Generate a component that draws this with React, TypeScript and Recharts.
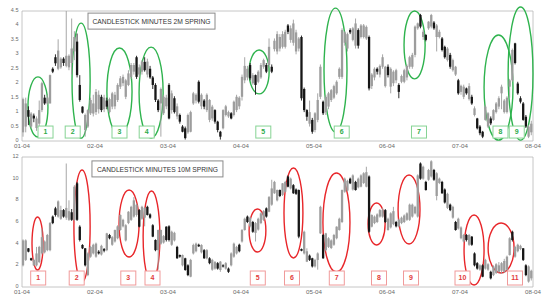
import React from 'react';
import { ComposedChart, Bar, XAxis, YAxis, ReferenceArea, ReferenceDot } from 'recharts';

type C = [number, number, number, number]; // open, high, low, close

const monthLabels = ['01-04', '02-04', '03-04', '04-04', '05-04', '06-04', '07-04', '08-04'];
const PER_MONTH = 27;
const monthTicks = monthLabels.map((_, k) => k * PER_MONTH);
const yTicks2M = [0, 0.5, 1, 1.5, 2, 2.5, 3, 3.5, 4, 4.5];
const yTicks10M = [0, 2, 4, 6, 8, 10, 12];

// ---- 2M series ----
const jan2M: C[] = [[0.3,1.5,0.15,1.45],[0.5,1.5,0.3,1.3],[1.07,1.2,0.55,0.84],[0.5,1.0,0.45,0.95],[0.88,0.95,0.65,0.78],[0.45,0.85,0.35,0.78],[0.6,1.4,0.5,1.07],[1.07,2.05,1.0,2.0],[1.5,1.6,1.25,1.3],[1.3,1.6,1.25,1.5],[1.3,2.3,1.3,2.28],[2.5,2.55,2.35,2.4],[2.9,3.0,2.6,2.69],[2.5,3.52,2.45,3.13],[2.55,2.9,2.5,2.85],[2.85,2.9,2.6,2.7],[2.6,4.5,2.55,2.95],[2.55,3.0,2.45,2.95],[2.7,4.24,2.3,3.2],[3.1,3.8,2.8,3.6],[3.44,3.72,2.2,2.28],[1.94,2.28,1.36,1.42],[1.19,1.2,0.95,0.98],[0.38,0.95,0.15,0.9],[0.5,1.1,0.45,1.07],[0.96,1.5,0.9,1.42],[0.95,1.6,0.85,1.3]];
const feb2M: C[] = [[1.0,1.8,0.9,1.7],[1.1,1.75,0.95,1.6],[1.53,1.6,1.0,1.07],[1.1,1.6,1.0,1.5],[1.4,1.5,1.1,1.19],[1.0,1.5,0.95,1.45],[1.19,1.7,1.1,1.65],[1.2,1.7,1.1,1.6],[1.42,2.0,1.35,1.94],[1.88,2.25,1.8,2.17],[2.0,2.3,1.9,2.22],[1.53,2.15,1.45,2.1],[1.94,2.45,1.9,2.34],[2.22,2.7,2.15,2.63],[2.4,2.7,2.3,2.63],[2.9,2.95,2.15,2.22],[2.3,2.65,2.2,2.55],[2.4,2.8,2.3,2.75],[2.74,2.9,2.4,2.45],[2.3,2.85,2.2,2.75],[2.5,2.6,2.15,2.2],[2.2,2.25,1.8,1.94],[1.94,2.0,1.35,1.42],[1.4,1.45,1.0,1.07],[1.3,1.85,0.15,1.8],[0.96,1.6,0.9,1.53],[1.2,1.6,1.1,1.5]];
const mar2M: C[] = [[1.94,2.0,0.75,0.78],[1.07,1.75,0.95,1.65],[1.48,1.55,0.95,1.0],[0.85,1.3,0.75,1.2],[0.9,0.95,0.6,0.67],[0.5,0.55,0.3,0.32],[0.44,0.5,0.05,0.1],[0.3,0.95,0.25,0.9],[0.32,1.05,0.3,1.0],[1.3,1.7,1.25,1.65],[1.4,1.65,1.3,1.6],[2.05,2.1,1.3,1.36],[1.2,1.65,1.1,1.6],[1.4,1.45,1.1,1.19],[1.07,1.65,1.0,1.6],[0.73,1.45,0.65,1.42],[0.78,1.25,0.7,1.19],[1.07,1.1,0.6,0.67],[0.67,0.7,0.3,0.38],[0.32,0.35,0.05,0.15],[0.44,1.1,0.4,1.07],[0.9,1.25,0.85,1.2],[0.85,1.05,0.8,1.0],[0.96,1.0,0.75,0.78],[0.9,1.4,0.85,1.36],[1.07,1.6,1.0,1.53],[1.2,1.55,1.1,1.5]];
const apr2M: C[] = [[1.53,2.3,1.4,2.22],[2.1,2.9,2.0,2.6],[2.2,2.6,2.1,2.5],[2.63,2.7,2.1,2.17],[2.0,2.35,1.95,2.28],[2.28,2.3,1.6,1.94],[2.05,2.45,2.0,2.4],[2.2,2.7,2.15,2.63],[2.57,2.85,2.5,2.8],[2.63,2.7,2.35,2.4],[2.63,3.55,2.55,3.26],[2.57,2.65,2.35,2.4],[3.18,3.55,3.1,3.47],[3.1,3.8,3.0,3.7],[3.2,3.7,3.1,3.6],[3.26,3.8,3.2,3.7],[3.26,3.85,3.2,3.78],[4.0,4.05,3.7,3.78],[3.5,4.0,3.4,3.9],[3.4,4.2,3.3,4.07],[3.1,3.85,3.0,3.76],[3.2,3.6,3.1,3.55],[3.6,3.65,1.4,1.48],[1.8,1.85,1.0,1.07],[1.07,1.1,0.7,0.84],[0.6,1.4,0.5,1.0],[0.73,0.8,0.25,0.32]];
const may2M: C[] = [[0.38,1.0,0.3,0.96],[0.73,1.65,0.65,1.42],[1.53,2.65,1.45,2.57],[1.36,1.4,0.9,0.96],[1.0,1.6,0.9,1.53],[1.19,1.7,1.1,1.65],[1.42,1.8,1.35,1.76],[1.5,1.95,1.45,1.9],[1.65,2.1,1.6,2.05],[2.22,2.55,2.15,2.5],[2.22,3.9,2.15,3.84],[3.4,3.8,3.3,3.76],[3.2,3.75,3.1,3.7],[3.84,3.9,3.7,3.76],[3.5,3.95,3.45,3.9],[3.3,4.24,3.2,4.07],[3.84,3.9,3.2,3.3],[3.6,4.05,3.55,4.0],[3.6,4.05,3.55,4.0],[3.55,4.0,3.5,3.95],[3.6,3.65,1.75,1.82],[1.9,2.35,1.8,2.3],[2.2,2.55,2.1,2.5],[2.5,2.55,2.3,2.4],[2.3,2.65,2.2,2.6],[2.57,3.0,2.5,2.9],[1.9,2.6,1.85,2.57]];
const jun2M: C[] = [[2.57,2.65,2.2,2.28],[1.88,2.55,1.65,2.5],[2.0,2.45,1.9,2.4],[2.1,2.5,2.0,2.45],[1.94,2.0,1.48,1.7],[2.05,2.3,2.0,2.25],[2.05,2.5,2.0,2.45],[2.2,2.65,2.1,2.6],[2.57,2.95,2.5,2.9],[2.57,3.05,2.5,2.98],[2.98,4.0,2.9,3.96],[3.9,4.1,3.85,4.07],[4.36,4.4,3.9,3.96],[3.6,3.85,3.5,3.78],[3.67,3.7,3.45,3.5],[3.9,4.15,3.85,4.13],[3.96,4.4,3.9,4.36],[4.1,4.15,3.85,3.9],[3.6,4.05,3.1,4.0],[3.6,3.85,3.55,3.78],[3.55,3.6,3.1,3.15],[3.26,3.3,2.85,2.9],[2.8,3.25,2.75,3.2],[2.98,3.05,2.5,2.57],[2.45,2.85,2.4,2.8],[2.3,2.6,2.25,2.57],[2.1,2.15,1.6,1.65]];
const jul2M: C[] = [[1.7,1.95,1.6,1.91],[1.53,1.95,1.45,1.88],[1.82,1.85,1.6,1.65],[1.45,2.0,1.4,1.9],[1.53,1.6,1.25,1.3],[0.9,1.2,0.85,1.13],[0.78,0.8,0.4,0.44],[0.5,0.55,0.2,0.27],[0.32,0.35,0.1,0.15],[0.73,1.25,0.7,1.19],[0.5,1.0,0.45,0.96],[0.78,0.85,0.55,0.61],[0.73,1.1,0.7,1.07],[1.0,1.35,0.95,1.3],[1.19,1.55,1.1,1.48],[1.65,1.95,1.1,1.88],[1.0,1.45,0.95,1.4],[1.0,1.55,0.95,1.5],[1.88,2.15,1.5,2.1],[2.1,3.2,2.05,3.15],[3.38,3.4,2.65,2.7],[1.99,2.05,1.6,1.65],[1.48,1.55,1.3,1.36],[1.3,1.35,0.7,0.73],[0.84,0.9,0.45,0.5],[0.15,0.55,0.1,0.5],[0.3,0.7,0.2,0.6]];

// ---- 10M series ----
const jan10M: C[] = [[2.0,4.4,1.9,4.3],[2.5,4.4,2.4,4.3],[3.57,3.6,3.2,3.26],[2.65,2.7,2.4,2.5],[2.0,2.6,1.95,2.5],[2.0,3.7,1.9,3.1],[2.3,3.8,2.2,3.7],[3.1,5.4,3.0,4.6],[3.2,4.3,3.1,4.2],[3.4,4.9,3.3,4.8],[3.4,6.0,3.3,5.9],[6.5,6.6,5.8,5.9],[7.26,7.4,6.5,6.65],[6.5,8.0,6.4,7.9],[6.3,7.5,6.2,7.1],[7.1,7.2,6.4,6.5],[6.4,11.4,6.2,7.3],[6.2,8.0,6.1,7.0],[6.9,7.2,6.1,6.2],[6.2,9.4,6.1,9.26],[9.57,9.7,6.1,6.2],[5.57,5.7,4.2,4.34],[3.88,3.95,3.5,3.57],[3.57,3.6,1.9,2.0],[1.1,3.2,1.0,3.1],[2.8,3.8,2.7,3.7],[3.1,4.0,3.0,3.9]];
const feb10M: C[] = [[2.8,4.1,2.7,4.0],[3.26,3.4,3.0,3.1],[3.0,3.9,2.9,3.8],[3.5,3.6,3.2,3.35],[3.4,5.0,3.3,4.95],[4.8,4.9,4.4,4.5],[3.9,4.7,3.8,4.6],[4.2,5.3,4.1,5.26],[4.5,5.7,4.4,5.6],[5.26,6.7,5.2,6.65],[5.6,6.3,5.5,6.2],[4.3,5.8,4.2,5.7],[5.9,7.0,5.8,6.95],[6.2,7.5,6.1,7.4],[6.5,8.3,6.4,8.0],[6.65,7.7,6.5,7.6],[7.1,7.2,5.5,5.57],[6.3,7.5,6.2,7.4],[6.4,7.4,5.6,7.3],[7.4,7.5,6.6,6.65],[6.7,6.8,6.3,6.4],[5.7,5.8,4.6,4.65],[4.34,4.4,3.3,3.4],[3.4,5.3,1.6,5.26],[4.0,5.3,3.9,5.26],[4.1,4.8,4.0,4.7],[5.57,5.6,4.2,4.34]];
const mar10M: C[] = [[5.6,5.7,4.2,4.34],[3.9,5.2,3.8,5.1],[4.3,5.1,4.2,5.0],[3.7,3.8,2.6,2.65],[2.95,3.0,2.7,2.8],[2.0,3.0,1.9,2.95],[2.65,2.7,1.5,1.57],[2.0,2.1,1.0,1.1],[0.95,2.6,0.9,2.5],[3.1,4.0,3.0,3.88],[3.3,4.1,3.2,4.0],[3.9,4.0,3.7,3.75],[3.2,3.95,3.1,3.88],[3.4,3.5,2.6,2.65],[2.65,3.5,2.55,3.4],[2.65,2.75,2.1,2.2],[1.6,2.6,1.5,2.5],[1.7,2.4,1.6,2.3],[2.2,2.3,1.6,1.7],[1.57,2.4,1.4,2.34],[2.0,2.1,1.8,1.9],[1.7,2.3,1.6,2.2],[1.7,1.8,1.3,1.4],[2.0,3.2,1.9,3.1],[2.8,4.1,2.7,4.0],[3.1,3.8,3.0,3.7],[3.9,4.0,3.2,3.3]];
const apr10M: C[] = [[4.2,5.35,4.1,5.26],[5.26,6.4,5.2,6.3],[6.5,6.6,5.9,6.0],[5.6,6.5,5.5,6.4],[6.0,6.1,5.0,5.1],[5.0,6.0,4.2,5.9],[5.3,6.4,5.2,6.3],[5.9,6.9,5.8,6.8],[6.2,7.1,6.1,7.0],[7.26,7.35,6.4,6.5],[6.95,8.4,6.9,8.3],[7.6,9.9,7.5,9.1],[8.65,9.8,8.6,9.7],[8.0,9.0,7.9,8.95],[8.95,9.0,8.3,8.4],[8.5,9.6,8.4,9.57],[8.8,9.8,8.7,9.7],[10.2,10.3,9.2,9.26],[9.1,10.1,9.0,10.0],[9.4,9.5,8.6,8.65],[9.0,9.1,8.5,8.6],[8.95,9.0,4.5,4.65],[3.5,3.55,3.3,3.35],[3.1,5.2,3.0,5.1],[2.34,3.57,2.3,3.3],[2.9,3.0,2.4,2.5],[2.65,2.7,1.8,1.9]];
const may10M: C[] = [[1.9,2.6,1.8,2.5],[2.5,3.2,1.6,3.1],[4.95,7.5,4.9,7.4],[4.8,4.9,2.6,2.65],[3.4,5.0,3.3,4.95],[3.7,4.6,3.6,4.5],[3.6,4.4,3.5,4.3],[3.9,4.9,3.8,4.8],[4.5,5.6,4.4,5.57],[5.26,6.4,5.2,6.3],[6.0,9.0,5.9,8.95],[8.8,10.1,8.7,10.0],[8.9,9.9,8.8,9.8],[10.0,10.1,9.5,9.57],[9.0,10.4,8.9,10.3],[9.7,9.8,8.9,8.95],[9.2,10.1,9.1,10.0],[9.26,10.4,9.2,10.3],[9.6,10.6,9.5,10.5],[9.26,11.1,9.2,10.6],[10.2,10.3,5.0,5.1],[5.57,6.7,5.5,6.65],[5.9,6.6,5.8,6.5],[6.0,6.8,5.9,6.7],[6.5,7.2,6.4,7.1],[6.5,7.3,6.4,7.1],[7.1,7.2,5.9,6.0]];
const jun10M: C[] = [[5.26,6.4,5.2,6.3],[5.5,6.9,5.4,6.8],[5.8,7.4,5.7,7.0],[6.0,6.1,5.5,5.6],[5.6,6.3,5.5,6.2],[5.9,6.5,5.8,6.4],[6.0,6.7,5.9,6.6],[6.2,6.9,6.1,6.8],[6.2,7.7,6.1,7.6],[6.5,7.7,6.4,7.6],[6.8,7.5,6.7,7.4],[6.5,10.4,6.4,10.3],[11.4,11.5,9.9,10.0],[10.0,11.2,9.9,11.1],[9.7,9.8,8.9,8.95],[9.9,10.9,9.8,10.8],[10.2,11.7,10.1,11.6],[10.8,10.9,9.8,9.9],[8.4,10.6,8.0,10.5],[9.6,10.1,9.5,10.0],[9.7,9.8,8.6,8.65],[9.0,9.1,7.7,7.8],[7.3,8.7,7.2,8.6],[7.6,7.7,7.0,7.1],[6.4,7.5,6.3,7.4],[6.0,6.1,5.2,5.26],[5.4,6.4,5.3,6.3]];
const jul10M: C[] = [[4.5,5.6,4.4,5.5],[4.2,4.9,4.1,4.8],[4.8,4.9,4.2,4.34],[3.9,4.9,3.8,4.8],[4.65,4.7,3.8,3.9],[3.1,3.2,1.9,2.0],[2.2,2.3,1.6,1.7],[1.6,2.1,1.5,2.0],[2.0,2.1,0.9,0.95],[1.7,2.6,1.6,2.5],[1.6,2.2,1.5,2.1],[1.4,1.5,0.7,0.8],[1.1,2.0,1.0,1.9],[1.3,2.2,1.2,2.1],[1.4,2.3,1.3,2.0],[1.5,2.3,1.2,2.2],[1.4,2.6,1.3,2.4],[1.6,2.9,1.5,2.8],[2.95,4.6,2.9,4.5],[5.1,5.2,4.2,4.34],[2.8,3.8,2.7,3.7],[3.3,4.0,3.2,3.9],[3.5,3.9,3.4,3.8],[3.57,3.6,2.4,2.5],[2.0,2.1,1.0,1.1],[0.5,2.0,0.4,1.9],[0.8,1.6,0.6,1.5]];

// ---- annotations (data units: candle index, value) ----
const ellipses2M = [
  { x1: 2.2, x2: 9.6, y1: 0.14, y2: 2.22 },
  { x1: 18.5, x2: 25.2, y1: 0.1, y2: 4.08 },
  { x1: 31.4, x2: 40.7, y1: 0.21, y2: 3.22 },
  { x1: 43.3, x2: 52.2, y1: 0.1, y2: 3.25 },
  { x1: 84.0, x2: 91.4, y1: 1.63, y2: 3.15 },
  { x1: 111.7, x2: 120.2, y1: 0.31, y2: 4.6 },
  { x1: 141.3, x2: 149.1, y1: 2.15, y2: 4.5 },
  { x1: 170.9, x2: 181.6, y1: 0.03, y2: 3.67 },
  { x1: 179.8, x2: 189.0, y1: 0.03, y2: 4.64 },
];
const labels2M = [
  { n: '1', x: 8.7 }, { n: '2', x: 18.75 }, { n: '3', x: 36.06 }, { n: '4', x: 46.12 }, { n: '5', x: 89.25 },
  { n: '6', x: 118.25 }, { n: '7', x: 146.83 }, { n: '8', x: 176.97 }, { n: '9', x: 182.99 },
];
const ellipses10M = [
  { x1: 3.7, x2: 7.8, y1: 1.57, y2: 6.46 },
  { x1: 19.2, x2: 25.2, y1: 0.46, y2: 10.8 },
  { x1: 35.9, x2: 43.3, y1: 2.77, y2: 8.95 },
  { x1: 44.8, x2: 51.0, y1: 0.46, y2: 8.86 },
  { x1: 84.0, x2: 90.2, y1: 3.23, y2: 7.2 },
  { x1: 96.9, x2: 103.9, y1: 2.68, y2: 10.98 },
  { x1: 111.3, x2: 121.3, y1: 1.38, y2: 10.52 },
  { x1: 128.0, x2: 134.3, y1: 3.88, y2: 7.75 },
  { x1: 139.1, x2: 147.2, y1: 3.97, y2: 10.34 },
  { x1: 163.5, x2: 170.9, y1: 0.18, y2: 6.65 },
  { x1: 172.4, x2: 182.0, y1: 1.29, y2: 5.91 },
];
const labels10M = [
  { n: '1', x: 5.99 }, { n: '2', x: 20.23 }, { n: '3', x: 39.32 }, { n: '4', x: 48.27 }, { n: '5', x: 87.21 },
  { n: '6', x: 99.86 }, { n: '7', x: 116.43 }, { n: '8', x: 132.04 }, { n: '9', x: 143.88 }, { n: '10', x: 162.93 },
  { n: '11', x: 182.34 },
];

const build = (months: C[][]) =>
  months.flat().map((c, k) => ({ i: k + 0.5, open: c[0], high: c[1], low: c[2], close: c[3], range: [c[2], c[1]] }));

const data2M = build([jan2M, feb2M, mar2M, apr2M, may2M, jun2M, jul2M]);
const data10M = build([jan10M, feb10M, mar10M, apr10M, may10M, jun10M, jul10M]);
const X_MAX = PER_MONTH * 7;

const GRAY = '#9d9d9d';
const BLACK = '#161616';
const FONT = 'Liberation Sans, Arial, sans-serif';

const Candle = (props: any) => {
  const { x, y, width, height } = props;
  const p = props.payload || props;
  if (p == null || x == null || y == null) return null;
  const top = Math.min(y, y + height);
  const h = Math.abs(height);
  const span = p.high - p.low || 1;
  const ppu = h / span;
  const cx = x + width / 2;
  const yO = top + (p.high - p.open) * ppu;
  const yC = top + (p.high - p.close) * ppu;
  const color = p.close >= p.open ? GRAY : BLACK;
  const bTop = Math.min(yO, yC);
  const bH = Math.max(1.2, Math.abs(yC - yO));
  const bw = 2.3;
  return (
    <g>
      <line x1={cx} x2={cx} y1={top} y2={top + h} stroke={color} strokeWidth={0.9} />
      <rect x={cx - bw / 2} y={bTop} width={bw} height={bH} fill={color} />
    </g>
  );
};

const YTick = (props: any) => {
  const { x, y, payload } = props;
  return (
    <text x={x} y={y - 1} dy="0.355em" textAnchor="end" fontSize={5.5} fill="#6a6a6a" fontFamily={FONT}>
      {String(payload.value)}
    </text>
  );
};

type PanelProps = {
  data: any[];
  height: number;
  marginTop: number;
  marginBottom: number;
  xAxisHeight: number;
  yMax: number;
  yTicks: number[];
  title: string;
  titlePos: { x: number; y: number; w: number; tl: number };
  ellipses: { x1: number; x2: number; y1: number; y2: number }[];
  labels: { n: string; x: number }[];
  labelY: number;
  labelH: number;
  ellipseColor: string;
  boxColor: string;
  textColor: string;
};

function Panel(pp: PanelProps) {
  const xTickStyle = { fontSize: 6.2, fill: '#6a6a6a', fontFamily: FONT };
  return (
    <ComposedChart
      width={550}
      height={pp.height}
      data={pp.data}
      margin={{ top: pp.marginTop, right: 17, bottom: pp.marginBottom, left: 0 }}
    >
      <XAxis
        type="number"
        dataKey="i"
        domain={[0, X_MAX]}
        ticks={monthTicks}
        interval={0}
        tickFormatter={(v: number) => monthLabels[Math.round(v / PER_MONTH)]}
        axisLine={false}
        tickLine={false}
        tickSize={1}
        tickMargin={2}
        height={pp.xAxisHeight}
        tick={xTickStyle}
        allowDataOverflow
      />
      <YAxis
        type="number"
        domain={[0, pp.yMax]}
        ticks={pp.yTicks}
        interval={0}
        width={22}
        axisLine={false}
        tickLine={false}
        tickSize={2}
        tickMargin={1.5}
        tick={YTick}
        allowDataOverflow
      />
      <ReferenceArea x1={0} x2={X_MAX} y1={0} y2={pp.yMax} fill="none" stroke="#b8b8b8" strokeWidth={0.8} ifOverflow="visible" />
      <Bar dataKey="range" barSize={2} shape={Candle} isAnimationActive={false} />
      {pp.ellipses.map((e, k) => (
        <ReferenceArea
          key={'e' + k}
          x1={e.x1}
          x2={e.x2}
          y1={e.y1}
          y2={e.y2}
          ifOverflow="visible"
          shape={(s: any) => (
            <ellipse
              cx={s.x + s.width / 2}
              cy={s.y + s.height / 2}
              rx={Math.abs(s.width) / 2}
              ry={Math.abs(s.height) / 2}
              fill="none"
              stroke={pp.ellipseColor}
              strokeWidth={1.4}
            />
          )}
        />
      ))}
      {pp.labels.map((l, k) => (
        <ReferenceDot
          key={'l' + k}
          x={l.x}
          y={pp.labelY}
          ifOverflow="visible"
          shape={(s: any) => (
            <g>
              <rect x={s.cx - 7.5} y={s.cy - pp.labelH / 2} width={15} height={pp.labelH} fill="#fff" stroke={pp.boxColor} strokeWidth={1} />
              <text x={s.cx} y={s.cy} dy="0.35em" textAnchor="middle" fontSize={7} fontWeight="bold" fill={pp.textColor} fontFamily={FONT}>
                {l.n}
              </text>
            </g>
          )}
        />
      ))}
      <ReferenceDot
        x={pp.titlePos.x}
        y={pp.titlePos.y}
        ifOverflow="visible"
        shape={(s: any) => (
          <g>
            <rect x={s.cx - pp.titlePos.w / 2} y={s.cy - 8} width={pp.titlePos.w} height={16} fill="#fff" stroke="#8a8a8a" strokeWidth={1} />
            <text
              x={s.cx}
              y={s.cy}
              dy="0.35em"
              textAnchor="middle"
              fontSize={8}
              fill="#333"
              fontFamily={FONT}
              textLength={pp.titlePos.tl}
              lengthAdjust="spacingAndGlyphs"
            >
              {pp.title}
            </text>
          </g>
        )}
      />
    </ComposedChart>
  );
}

export default function App() {
  return (
    <div style={{ position: 'absolute', left: 0, top: 0, width: 550, height: 301, background: '#fff', fontFamily: FONT }}>
      <Panel
        data={data2M}
        height={150}
        marginTop={11}
        marginBottom={0}
        xAxisHeight={9}
        yMax={4.5}
        yTicks={yTicks2M}
        title="CANDLESTICK MINUTES 2M SPRING"
        titlePos={{ x: 47.9, y: 4.15, w: 127, tl: 118 }}
        ellipses={ellipses2M}
        labels={labels2M}
        labelY={0.31}
        labelH={12}
        ellipseColor="#2fb34e"
        boxColor="#86d394"
        textColor="#2eab4b"
      />
      <Panel
        data={data10M}
        height={151}
        marginTop={7}
        marginBottom={4}
        xAxisHeight={10}
        yMax={12}
        yTicks={yTicks10M}
        title="CANDLESTICK MINUTES 10M SPRING"
        titlePos={{ x: 50.1, y: 10.9, w: 131, tl: 121 }}
        ellipses={ellipses10M}
        labels={labels10M}
        labelY={0.83}
        labelH={14}
        ellipseColor="#e8262a"
        boxColor="#f09a9a"
        textColor="#e23b3b"
      />
    </div>
  );
}
